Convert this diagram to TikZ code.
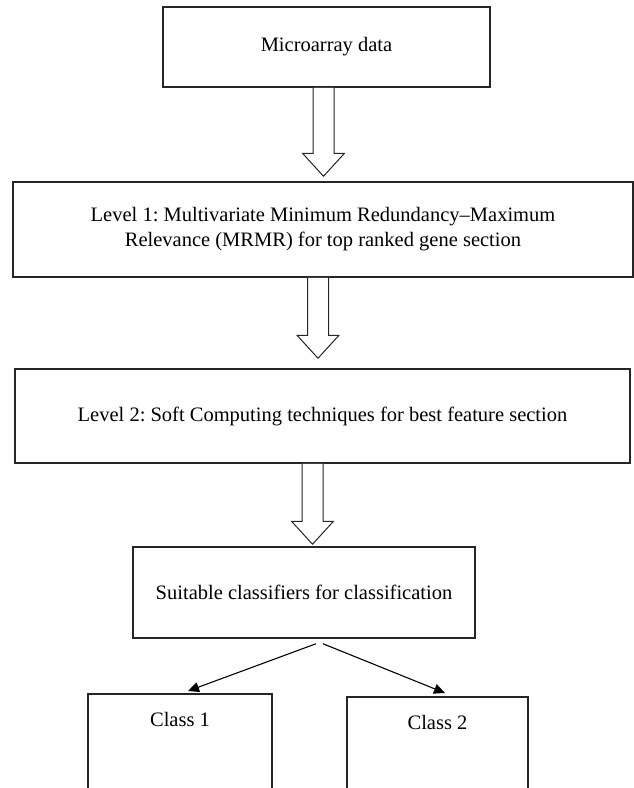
\documentclass[tikz,border=0pt]{standalone}
\usepackage{fontspec}
\setmainfont{Liberation Serif}
\usetikzlibrary{arrows.meta,calc}
\frenchspacing

% hollow block arrow: x shift, gap above target, from node, to node
\newcommand{\blockarrow}[4]{%
  \draw[hollow] let \p1=(#3.south), \p2=(#4.north) in
    ({\x1+(#1-10.5)*1pt},\y1) -- ({\x1+(#1-10.5)*1pt},{\y2+(#2+23)*1pt})
    -- ({\x1+(#1-21)*1pt},{\y2+(#2+23)*1pt}) -- ({\x1+#1*1pt},{\y2+#2*1pt})
    -- ({\x1+(#1+21)*1pt},{\y2+(#2+23)*1pt}) -- ({\x1+(#1+10.5)*1pt},{\y2+(#2+23)*1pt})
    -- ({\x1+(#1+10.5)*1pt},\y1);
}

\begin{document}
\begin{tikzpicture}[x=1pt, y=-1pt,
      every node/.append style={font=\fontsize{20.5}{25}\selectfont\frenchspacing},
      stage/.style={draw=black!85, line width=1.5pt, align=center, inner sep=0pt},
      classbox/.style={draw=black!85, line width=1.5pt, inner sep=0pt, text height=33pt, anchor=north},
      hollow/.style={draw=black!85, line width=1pt, fill=white},
      link/.style={line width=1.1pt, -{Triangle[length=11pt, width=10pt]}}]
    \useasboundingbox (0,0) rectangle (634,788);
    \node (micro) [stage, minimum width=327pt, minimum height=80pt] at (326.5,47) {Microarray data};
    \node (mrmr) [stage, minimum width=620pt, minimum height=95pt] at (323,229.5)
      {Level 1: Multivariate Minimum Redundancy--Maximum\\Relevance (MRMR) for top ranked gene section};
    \node (soft) [stage, minimum width=615pt, minimum height=94pt] at (322.5,416)
      {Level 2: Soft Computing techniques for best feature section};
    \node (suit) [stage, minimum width=342pt, minimum height=91pt] at (304,592.5)
      {Suitable classifiers for classification};
    \node (cls1) [classbox, minimum width=184pt, text depth=62pt] at (180,693) {Class 1};
    \node (cls2) [classbox, minimum width=181pt, text depth=59pt] at (437.5,696) {Class 2};

    \blockarrow{-3}{5}{micro}{mrmr}
    \blockarrow{-5}{10}{mrmr}{soft}
    \blockarrow{-10}{2}{soft}{suit}

    \draw[link] ([shift={(12pt,-5pt)}]suit.south) -- ([shift={(8pt,2pt)}]cls1.north);
    \draw[link] ([shift={(19pt,-5pt)}]suit.south) -- ([shift={(7.5pt,3pt)}]cls2.north);
  \end{tikzpicture}
\end{document}
